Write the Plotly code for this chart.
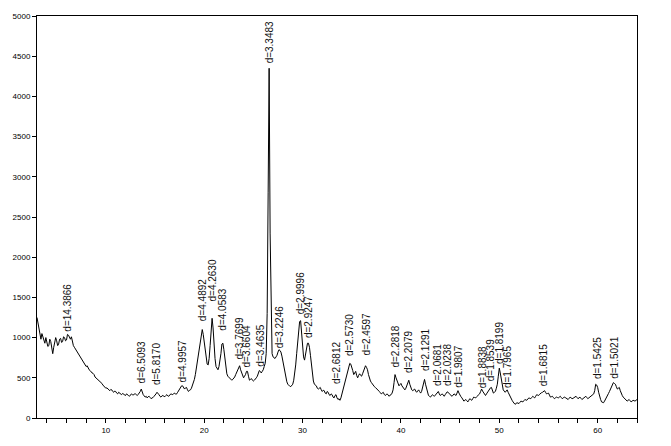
import plotly.graph_objects as go

# ---- scan data: 2-theta grid 3.0 .. 64.0 deg, step 0.1 deg; intensity in counts ----
scan_start = 3.0
scan_step = 0.1

counts = [
    # 3.0 - 4.9
    1250, 1180, 1120, 1040, 980, 1050, 1010, 960, 930, 1000,
    960, 890, 900, 980, 950, 870, 800, 880, 930, 1000,
    # 5.0 - 6.9
    960, 900, 920, 980, 990, 940, 950, 1010, 1000, 960,
    970, 1040, 1030, 990, 980, 1010, 940, 900, 880, 860,
    # 7.0 - 8.9
    850, 830, 800, 790, 770, 740, 720, 700, 690, 660,
    640, 650, 620, 600, 590, 570, 560, 555, 540, 510,
    # 9.0 - 10.9
    500, 490, 480, 460, 450, 445, 430, 410, 400, 390,
    370, 375, 360, 345, 340, 355, 350, 330, 320, 335,
    # 11.0 - 12.9
    330, 310, 300, 320, 310, 295, 290, 305, 300, 285,
    280, 300, 295, 280, 270, 285, 300, 290, 285, 300,
    # 13.0 - 14.9
    300, 290, 280, 295, 310, 330, 360, 320, 290, 275,
    260, 270, 250, 265, 270, 255, 240, 250, 255, 270,
    # 15.0 - 16.9
    280, 300, 320, 310, 290, 270, 260, 275, 280, 270,
    265, 280, 290, 275, 270, 285, 300, 295, 290, 305,
    # 17.0 - 18.9
    310, 295, 300, 320, 340, 370, 380, 400, 400, 380,
    360, 375, 380, 350, 330, 345, 350, 370, 400, 430,
    # 19.0 - 20.9
    480, 540, 620, 700, 800, 900, 1000, 1080, 1100, 1040,
    950, 830, 720, 670, 660, 740, 900, 1100, 1240, 1120,
    # 21.0 - 22.9
    900, 740, 640, 610, 600, 640, 700, 800, 920, 930,
    850, 720, 600, 550, 520, 510, 500, 480, 470, 480,
    # 23.0 - 24.9
    490, 510, 540, 570, 600, 630, 650, 600, 560, 520,
    500, 520, 540, 580, 580, 520, 470, 480, 490, 470,
    # 25.0 - 26.9
    460, 470, 480, 500, 520, 560, 590, 580, 560, 580,
    600, 640, 680, 800, 1300, 2800, 4350, 2300, 1100, 800,
    # 27.0 - 28.9
    760, 750, 740, 760, 780, 820, 850, 840, 820, 770,
    700, 630, 560, 500, 450, 420, 400, 395, 390, 400,
    # 29.0 - 30.9
    420, 470, 550, 660, 800, 950, 1100, 1200, 1210, 1050,
    850, 760, 720, 780, 870, 930, 930, 880, 780, 650,
    # 31.0 - 32.9
    520, 460, 420, 410, 400, 370, 360, 370, 380, 350,
    330, 345, 340, 310, 300, 330, 320, 290, 280, 300,
    # 33.0 - 34.9
    290, 260, 250, 280, 290, 250, 230, 240, 220, 250,
    300, 350, 400, 450, 500, 560, 600, 650, 680, 670,
    # 35.0 - 36.9
    640, 590, 540, 560, 580, 530, 500, 530, 550, 530,
    520, 550, 580, 620, 650, 630, 600, 540, 480, 460,
    # 37.0 - 38.9
    440, 420, 400, 390, 380, 370, 360, 345, 330, 315,
    300, 310, 320, 295, 280, 290, 300, 285, 270, 285,
    # 39.0 - 40.9
    290, 310, 350, 440, 540, 500, 460, 420, 400, 415,
    430, 400, 380, 360, 350, 370, 400, 440, 470, 420,
    # 41.0 - 42.9
    380, 350, 340, 350, 360, 335, 320, 335, 350, 330,
    310, 330, 380, 440, 480, 420, 360, 310, 280, 270,
    # 43.0 - 44.9
    260, 275, 290, 280, 270, 285, 300, 320, 330, 300,
    280, 290, 300, 285, 270, 290, 310, 325, 320, 300,
    # 45.0 - 46.9
    290, 280, 270, 285, 300, 290, 280, 310, 340, 310,
    280, 265, 250, 230, 210, 220, 230, 215, 200, 220,
    # 47.0 - 48.9
    240, 230, 220, 240, 260, 255, 250, 265, 280, 290,
    300, 330, 360, 335, 310, 295, 280, 300, 320, 340,
    # 49.0 - 50.9
    360, 375, 380, 340, 310, 320, 330, 370, 420, 520,
    620, 560, 480, 410, 350, 335, 320, 335, 350, 320,
    # 51.0 - 52.9
    290, 265, 240, 220, 200, 185, 170, 180, 190, 185,
    180, 195, 210, 205, 200, 215, 230, 225, 220, 235,
    # 53.0 - 54.9
    250, 245, 240, 255, 270, 260, 250, 270, 290, 285,
    280, 295, 310, 315, 320, 330, 340, 320, 300, 305,
    # 55.0 - 56.9
    310, 285, 260, 265, 270, 255, 240, 250, 260, 255,
    250, 260, 270, 255, 240, 250, 260, 255, 250, 240,
    # 57.0 - 58.9
    230, 245, 260, 250, 240, 245, 250, 260, 270, 255,
    240, 250, 260, 245, 230, 240, 250, 260, 270, 255,
    # 59.0 - 60.9
    240, 250, 260, 270, 280, 290, 300, 340, 420, 410,
    380, 320, 260, 230, 200, 195, 190, 210, 230, 255,
    # 61.0 - 62.9
    280, 305, 330, 355, 380, 410, 440, 430, 420, 390,
    360, 370, 380, 340, 300, 280, 260, 250, 240, 225,
    # 63.0 - 64.0
    210, 220, 230, 215, 200, 210, 220, 215, 210, 220, 230,
]

two_theta = [round(scan_start + scan_step * i, 2) for i in range(len(counts))]

# ---- peak labels ----
peak_d = [
    "14.3866", "6.5093", "5.8170", "4.9957", "4.4892", "4.2630", "4.0583",
    "3.7699", "3.6604", "3.4635", "3.3483", "3.2246", "2.9996", "2.9247",
    "2.6812", "2.5730", "2.4597", "2.2818", "2.2079", "2.1291", "2.0681",
    "2.0238", "1.9807", "1.8838", "1.8539", "1.8199", "1.7965", "1.6815",
    "1.5425", "1.5021",
]
peak_2theta = [
    6.14, 13.59, 15.22, 17.74, 19.76, 20.82, 21.88,
    23.58, 24.30, 25.70, 26.60, 27.64, 29.76, 30.54,
    33.39, 34.84, 36.50, 39.46, 40.84, 42.42, 43.73,
    44.74, 45.77, 48.27, 49.10, 50.08, 50.78, 54.53,
    59.92, 61.70,
]
# vertical position (counts) of the lower end of each label
label_base = [
    1060, 420, 400, 430, 1190, 1440, 1070,
    720, 610, 630, 4400, 860, 1280, 980,
    410, 760, 760, 610, 550, 570, 380,
    380, 360, 360, 450, 660, 360, 380,
    470, 480,
]

fig = go.Figure()
fig.add_trace(go.Scatter(
    x=two_theta, y=counts, mode="lines",
    line=dict(color="#000000", width=1),
    hoverinfo="skip", showlegend=False,
))

for d, xt, yb in zip(peak_d, peak_2theta, label_base):
    fig.add_annotation(
        x=xt, y=yb, xref="x", yref="y",
        text="d=" + d, showarrow=False, textangle=-90,
        xanchor="center", yanchor="bottom", borderpad=0,
        font=dict(family="Liberation Sans, Arial, sans-serif", size=10, color="#111111"),
    )

axis_font = dict(family="Liberation Sans, Arial, sans-serif", size=8, color="#000000")

fig.update_layout(
    width=671, height=446,
    margin=dict(l=37, r=34, t=16, b=28),
    paper_bgcolor="white", plot_bgcolor="white",
    showlegend=False,
    xaxis=dict(
        range=[3, 64], tick0=0, dtick=10,
        showgrid=False, zeroline=False,
        showline=True, linecolor="#000000", linewidth=1, mirror=True,
        ticks="outside", ticklen=4, tickcolor="#000000", tickwidth=1,
        minor=dict(dtick=2, tick0=0, ticks="outside", ticklen=4,
                   tickcolor="#000000", showgrid=False),
        tickfont=axis_font,
    ),
    yaxis=dict(
        range=[0, 5000], tick0=0, dtick=500,
        showgrid=False, zeroline=False,
        showline=True, linecolor="#000000", linewidth=1, mirror=True,
        ticks="outside", ticklen=4, tickcolor="#000000", tickwidth=1,
        tickformat="d", tickfont=axis_font,
    ),
)

fig.write_html("out.html")
